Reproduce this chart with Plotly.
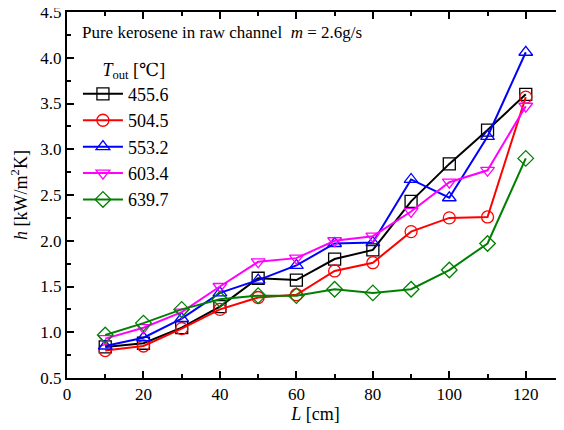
import plotly.graph_objects as go

L = [10, 20, 30, 40, 50, 60, 70, 80, 90, 100, 110, 120]
h_455_6 = [0.84, 0.88, 1.05, 1.28, 1.59, 1.57, 1.80, 1.90, 2.43, 2.84, 3.21, 3.60]
h_504_5 = [0.80, 0.85, 1.04, 1.25, 1.38, 1.41, 1.67, 1.76, 2.10, 2.25, 2.26, 3.57]
h_553_2 = [0.85, 0.94, 1.15, 1.43, 1.57, 1.73, 1.97, 1.98, 2.67, 2.47, 3.14, 4.06]
h_603_4 = [0.93, 1.05, 1.22, 1.50, 1.77, 1.81, 2.00, 2.05, 2.32, 2.64, 2.77, 3.47]
h_639_7 = [0.97, 1.10, 1.25, 1.36, 1.40, 1.40, 1.47, 1.43, 1.47, 1.68, 1.97, 2.90]

names = ["455.6", "504.5", "553.2", "603.4", "639.7"]
series = [h_455_6, h_504_5, h_553_2, h_603_4, h_639_7]
colors = ["#000000", "#ff0000", "#0000ff", "#ff00ff", "#008000"]
symbols = ["square-open", "circle-open", "triangle-up-open", "triangle-down-open", "diamond-open"]

FONT = "Liberation Serif, DejaVu Serif, serif"

fig = go.Figure()
for n, s, c, sym in zip(names, series, colors, symbols):
    fig.add_trace(go.Scatter(
        x=L, y=s, name=n, mode="lines+markers",
        line=dict(color=c, width=2),
        marker=dict(symbol=sym, size=12, color=c, line=dict(width=1.3, color=c)),
    ))

axis_common = dict(
    showline=True, linecolor="black", linewidth=2,
    ticks="inside", ticklen=7, tickwidth=2, tickcolor="black",
    showgrid=False, zeroline=False, automargin=False, ticklabeloverflow="allow",
    tickfont=dict(family=FONT, size=17, color="black"),
)

fig.update_xaxes(
    range=[0, 130], tickvals=[0, 20, 40, 60, 80, 100, 120], mirror="ticks",
    minor=dict(ticks="inside", ticklen=4, tickwidth=1.5, dtick=10, tick0=0, tickcolor="black"),
    title=dict(text="<i>L</i> [cm]", font=dict(family=FONT, size=18, color="black"), standoff=2),
    **axis_common,
)
fig.update_yaxes(
    range=[0.5, 4.5], tickvals=[0.5, 1.0, 1.5, 2.0, 2.5, 3.0, 3.5, 4.0, 4.5], mirror=False,
    ticktext=["0.5", "1.0", "1.5", "2.0", "2.5", "3.0", "3.5", "4.0", "4.5"],
    minor=dict(ticks="inside", ticklen=4, tickwidth=1.5, dtick=0.25, tick0=0.5, tickcolor="black"),
    title=dict(text="<i>h</i> [kW/m<sup>2</sup>K]", font=dict(family=FONT, size=18, color="black"), standoff=8),
    **axis_common,
)

fig.add_annotation(
    xref="paper", yref="paper", x=0.026, y=0.945, xanchor="left", yanchor="middle",
    text="Pure kerosene in raw channel  <i>m</i> = 2.6g/s", showarrow=False,
    font=dict(family=FONT, size=17, color="black"),
)

# the page body has an 8px margin; the figure is sized so the page fits the window
fig.update_layout(
    width=556, height=422,
    margin=dict(l=59, r=0, t=4, b=52),
    paper_bgcolor="white", plot_bgcolor="white",
    font=dict(family=FONT, size=17, color="black"),
    legend=dict(
        x=0.022, y=0.89, xanchor="left", yanchor="top",
        bgcolor="rgba(0,0,0,0)",
        title=dict(text="     <i>T</i><sub>out</sub> [℃]", side="top", font=dict(family=FONT, size=18)),
        font=dict(family=FONT, size=18, color="black"),
        tracegroupgap=0, itemwidth=40,
    ),
)

fig.write_html("out.html")
